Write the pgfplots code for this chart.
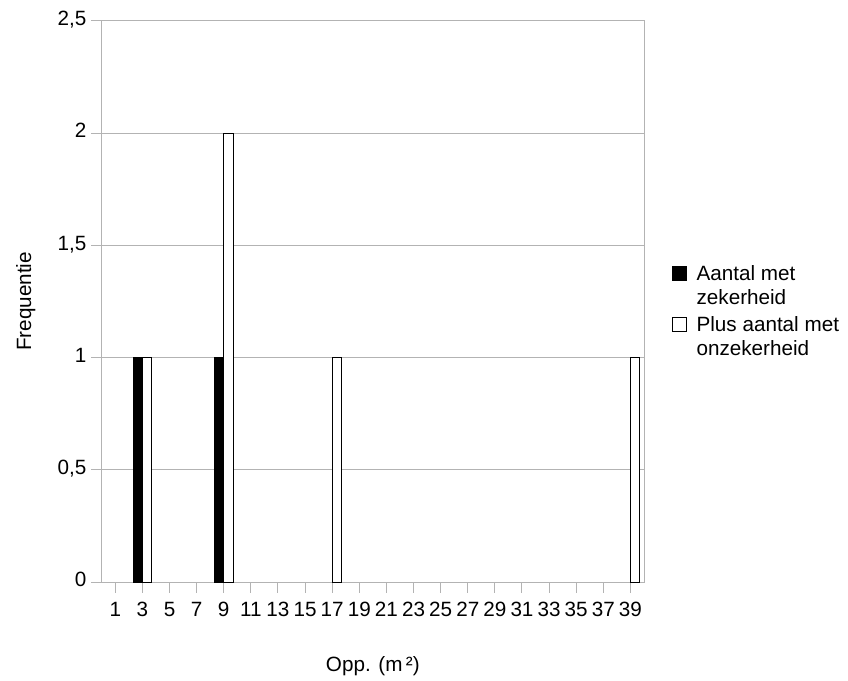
\documentclass[border=0pt]{standalone}
\usepackage{fontspec}
\setmainfont{Liberation Sans}
\usepackage{pgfplots}
\pgfplotsset{compat=1.18}
\definecolor{gridgray}{HTML}{B3B3B3}
\newcommand{\chartfont}{\fontsize{15.5}{18}\selectfont}
\begin{document}
\begin{tikzpicture}[font=\chartfont]
\path (0,0) rectangle (636pt,508.5pt);
\begin{axis}[
  at={(76.3pt,72pt)}, anchor=south west,
  scale only axis, width=406.7pt, height=420.75pt,
  xmin=-0.5, xmax=19.5, ymin=0, ymax=2.5,
  xtick={0,...,19},
  xticklabels={1,3,5,7,9,11,13,15,17,19,21,23,25,27,29,31,33,35,37,39},
  ytick={0,0.5,1,1.5,2,2.5},
  /pgf/number format/use comma,
  /pgf/number format/fixed,
  /pgf/number format/assume math mode=true,
  ymajorgrids, major grid style={gridgray, line width=0.75pt},
  axis line style={gridgray, line width=0.75pt},
  tick style={gridgray, line width=0.75pt},
  tick align=outside, major tick length=8pt, tick pos=left,
  tick label style={font=\chartfont},
  label style={font=\chartfont},
  typeset ticklabels with strut,
  xticklabel style={yshift=-2pt, inner xsep=0pt},
  xlabel={Opp. (m\,²)}, ylabel={Frequentie},
  xlabel style={at={(axis description cs:0.5,-0.15)}, anchor=center},
  ylabel style={at={(axis description cs:-0.14,0.5)}, anchor=center},
  legend style={at={(rel axis cs:1.052,0.57)}, anchor=north west, draw=none, fill=none,
    inner sep=0pt, row sep=4pt, font=\chartfont,
    nodes={align=left, anchor=base west},
    /tikz/every odd column/.append style={column sep=5pt}},
  legend image code/.code={\draw[#1, line width=0.6pt] (0pt,18pt) rectangle (10.5pt,28.5pt);},
]
\addplot[ybar, bar width=0.34, bar shift=-0.17, fill=black, draw=black, line width=0.6pt]
  coordinates {(1,1) (4,1)};
\addlegendentry{Aantal met\\zekerheid}
\addplot[ybar, bar width=0.34, bar shift=0.17, fill=white, draw=black, line width=0.6pt]
  coordinates {(1,1) (4,2) (8,1) (19,1)};
\addlegendentry{Plus aantal met\\onzekerheid}
\end{axis}
\end{tikzpicture}
\end{document}
